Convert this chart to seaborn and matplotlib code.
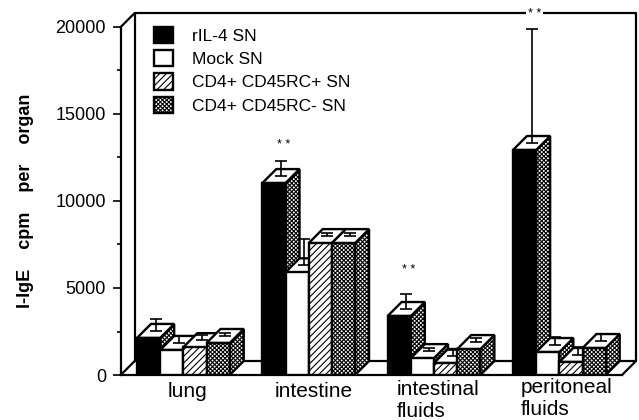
#!/usr/bin/env python

import matplotlib.pyplot as plt
import matplotlib.transforms as mtrans
import pandas as pd
import seaborn as sns
from matplotlib.patches import Polygon

organs = ["lung", "intestine", "intestinal\nfluids", "peritoneal\nfluids"]
treatments = ["rIL-4 SN", "Mock SN", "CD4+ CD45RC+ SN", "CD4+ CD45RC- SN"]

ril4_values = [2130, 11030, 3390, 12930]
mock_values = [1440, 5900, 970, 1320]
cd45_pos_values = [1600, 7580, 690, 750]
cd45_neg_values = [1840, 7580, 1490, 1550]

ril4_errors = [690, 870, 860, 6550]
mock_errors = [400, 1510, 180, 460]
cd45_pos_errors = [300, 180, 340, 450]
cd45_neg_errors = [150, 180, 230, 400]

star_heights = [None, 13200, 6020, 20750]

y_ticks = [0, 5000, 10000, 15000, 20000]
y_minor_ticks = [2500, 7500, 12500, 17500]

DEPTH_PX = 14


def build_frame():
    rows = []
    columns = [ril4_values, mock_values, cd45_pos_values, cd45_neg_values]
    for name, values in zip(treatments, columns):
        for organ, value in zip(organs, values):
            rows.append({"organ": organ, "treatment": name, "cpm": value})
    return pd.DataFrame(rows)


def draw_room(ax, fig):
    # back wall of the 3d box, same shape as the axes but pushed back
    shift = mtrans.ScaledTranslation(DEPTH_PX / 100, DEPTH_PX / 100, fig.dpi_scale_trans)
    back = ax.transAxes + shift
    ax.plot([0, 1, 1, 0, 0], [0, 0, 1, 1, 0], transform=back, color="black",
            lw=1.6, clip_on=False, zorder=1)
    for x, y in [(0, 0), (0, 1), (1, 0)]:
        ax.plot([x, x + DEPTH_PX / 501.3], [y, y + DEPTH_PX / 348],
                transform=ax.transAxes, color="black", lw=1.6, clip_on=False, zorder=1)


def draw_bars(ax, df):
    sns.barplot(data=df, x="organ", y="cpm", hue="treatment", hue_order=treatments,
                palette=["black", "white", "white", "white"], saturation=1,
                width=0.74, gap=0, errorbar=None, edgecolor="black", linewidth=1.7,
                legend=False, ax=ax)
    bars = list(ax.containers)
    for patch in bars[2]:
        patch.set_hatch("/////")
    for patch in bars[3]:
        patch.set_hatch("xxxxxxxx")
    return bars


def draw_depth(ax, bars):
    dx = DEPTH_PX / 501.3 * (ax.get_xlim()[1] - ax.get_xlim()[0])
    dy = DEPTH_PX / 348 * (ax.get_ylim()[1] - ax.get_ylim()[0])
    errors = [ril4_errors, mock_errors, cd45_pos_errors, cd45_neg_errors]
    order = 3
    for group in range(len(organs)):
        for series, container in enumerate(bars):
            bar = container[group]
            x0, x1 = bar.get_x(), bar.get_x() + bar.get_width()
            top = bar.get_height()
            side = Polygon([(x1, 0), (x1 + dx, dy), (x1 + dx, top + dy), (x1, top)],
                           facecolor="white", edgecolor="black", hatch="xxxxxxxx",
                           lw=1.7, clip_on=False, zorder=order)
            lid = Polygon([(x0, top), (x0 + dx, top + dy), (x1 + dx, top + dy), (x1, top)],
                          facecolor="white", edgecolor="black", lw=1.7,
                          clip_on=False, zorder=order)
            ax.add_patch(side)
            ax.add_patch(lid)
            cx = (x0 + x1 + dx) / 2
            ax.errorbar([cx], [top + dy / 2], yerr=[[0], [errors[series][group]]],
                        color="black", lw=1.2, capsize=4.5, capthick=1.2,
                        clip_on=False, zorder=order + 0.1)
            bar.set_zorder(order + 0.2)
            order += 1
        height = star_heights[group]
        if height is not None:
            bar = bars[0][group]
            ax.text(bar.get_x() + bar.get_width() / 2 + dx * 0.7, height, "* *",
                    ha="center", va="center", fontsize=9, clip_on=False, zorder=60,
                    bbox=dict(facecolor="white", edgecolor="none", pad=1.5))


def main():
    sns.set_style("white")
    plt.rcParams["font.family"] = ["Liberation Sans", "DejaVu Sans"]
    plt.rcParams["hatch.linewidth"] = 0.8
    plt.rcParams["text.color"] = "black"
    plt.rcParams["axes.labelcolor"] = "black"
    plt.rcParams["xtick.color"] = "black"
    plt.rcParams["ytick.color"] = "black"

    fig = plt.figure(figsize=(6.39, 4.2), dpi=100)
    ax = fig.add_axes([120.7 / 639, 45 / 420, 501.3 / 639, 348 / 420])

    df = build_frame()
    bars = draw_bars(ax, df)
    ax.set_xlim(-0.5, 3.5)
    ax.set_ylim(0, 20000)
    draw_room(ax, fig)
    draw_depth(ax, bars)

    sns.despine(ax=ax, top=True, right=True)
    for spine in ax.spines.values():
        spine.set_linewidth(1.6)
        spine.set_color("black")
    ax.set_xlabel("")
    ax.set_ylabel("I-IgE    cpm    per    organ", fontsize=13, fontweight="bold")
    ax.yaxis.set_label_coords(-0.172, 0.5)
    ax.set_yticks(y_ticks)
    ax.set_yticks(y_minor_ticks, minor=True)
    ax.tick_params(axis="y", which="major", left=True, length=5.5, width=1.2, pad=5, labelsize=13)
    ax.tick_params(axis="y", which="minor", left=True, length=3, width=1.2)
    ax.tick_params(axis="x", length=0, pad=5, labelsize=15)

    nudges = [(4, 0), (5, 0), (4, 2), (7, 4)]
    for label, (nx, ny) in zip(ax.get_xticklabels(), nudges):
        label.set_transform(label.get_transform()
                            + mtrans.ScaledTranslation(nx / 100, ny / 100, fig.dpi_scale_trans))
        label.set_multialignment("left")
        label.set_linespacing(1.2)

    ax.legend(bars, treatments, loc="upper left", bbox_to_anchor=(0.067, 1.0),
              frameon=False, fontsize=12.5, handlelength=1.1, handleheight=1.05,
              handletextpad=1.05, labelspacing=0.36, borderpad=0, borderaxespad=0)

    fig.savefig("out.png", dpi=100)


if __name__ == '__main__':
    main()
